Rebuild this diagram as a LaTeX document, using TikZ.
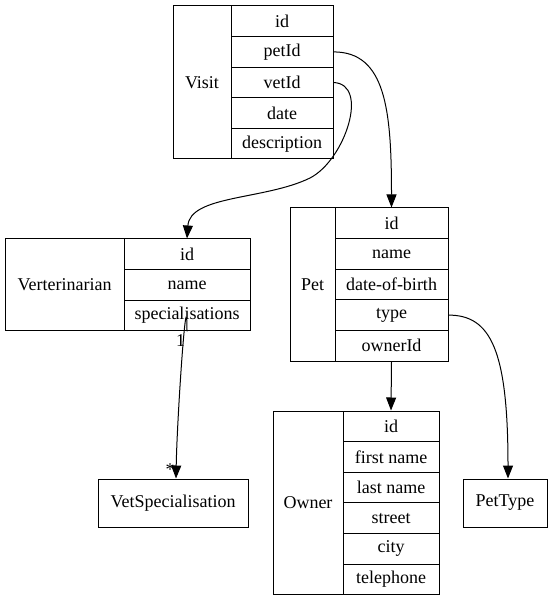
\documentclass[tikz,border=0pt]{standalone}
\usepackage{fontspec}
\setmainfont{Liberation Serif}
\usepackage{tikz}
\usetikzlibrary{arrows.meta}
\newcommand{\tfont}{\fontsize{18}{21}\selectfont}
\tikzset{
  >={Triangle[length=13pt,width=10pt]},
  tcell/.style={draw=black, line width=1pt, inner sep=0pt, font=\tfont,
                minimum width=#1, minimum height=30.6pt},
  tname/.style={draw=black, line width=1pt, inner sep=0pt, font=\tfont,
                minimum width=#1},
  tbox/.style={draw=black, line width=1pt, inner sep=0pt, font=\tfont,
               minimum width=#1, minimum height=48pt},
  tlink/.style={->, line width=1pt},
  tmult/.style={font=\tfont, inner sep=0pt},
}

\begin{document}
\begin{tikzpicture}[x=1pt,y=-1pt]
  \useasboundingbox (0,0) rectangle (552,601);

  % visit
  \node[tname=58pt, minimum height=153pt] (visit) at (202,82.5) {Visit};
  \node[tcell=102pt] (visit-id)    at (282,21.3)  {id};
  \node[tcell=102pt] (visit-petid) at (282,51.9)  {petId};
  \node[tcell=102pt] (visit-vetid) at (282,82.5)  {vetId};
  \node[tcell=102pt] (visit-date)  at (282,113.1) {date};
  \node[tcell=102pt] (visit-desc)  at (282,143.7) {description};

  % vet
  \node[tname=119pt, minimum height=91.8pt] (vet) at (64.5,284.9) {Verterinarian};
  \node[tcell=126pt] (vet-id)   at (187,254.3) {id};
  \node[tcell=126pt] (vet-name) at (187,284.9) {name};
  \node[tcell=126pt] (vet-spec) at (187,315.5) {specialisations};

  % pet
  \node[tname=45pt, minimum height=153pt] (pet) at (312.5,284.5) {Pet};
  \node[tcell=113pt] (pet-id)    at (391.5,223.3) {id};
  \node[tcell=113pt] (pet-name)  at (391.5,253.9) {name};
  \node[tcell=113pt] (pet-dob)   at (391.5,284.5) {date-of-birth};
  \node[tcell=113pt] (pet-type)  at (391.5,315.1) {type};
  \node[tcell=113pt] (pet-owner) at (391.5,345.7) {ownerId};

  % owner
  \node[tname=70pt, minimum height=183.6pt] (owner) at (308,502.8) {Owner};
  \node[tcell=96pt] (owner-id)    at (391,426.3) {id};
  \node[tcell=96pt] (owner-first) at (391,456.9) {first name};
  \node[tcell=96pt] (owner-last)  at (391,487.5) {last name};
  \node[tcell=96pt] (owner-str)   at (391,518.1) {street};
  \node[tcell=96pt] (owner-city)  at (391,548.7) {city};
  \node[tcell=96pt] (owner-tel)   at (391,579.3) {telephone};

  % plain boxes
  \node[tbox=150pt] (vspec)   at (173,503) {VetSpecialisation};
  \node[tbox=84pt]  (pettype) at (505,503) {PetType};

  % links
  \draw[tlink] (visit-petid.east) .. controls +(52,0) and +(0,-98) .. (pet-id.north);
  \draw[tlink] (visit-vetid.east) .. controls (370,84) and (345,160) .. (310,178)
                                  .. controls (265,200) and (190,195) .. (vet-id.north);
  \draw[tlink] (vet-spec.south) .. controls +(0,-60) and +(1,-60) .. ([xshift=3pt]vspec.north);
  \draw[tlink] (pet-owner.south) -- (owner-id.north);
  \draw[tlink] (pet-type.east) .. controls +(42,0) and +(0,-129) .. ([xshift=3pt]pettype.north);

  % multiplicities
  \node[tmult] (mult-one)  at (180.5,341) {1};
  \node[tmult] (mult-many) at (170,470) {*};

\end{tikzpicture}
\end{document}
